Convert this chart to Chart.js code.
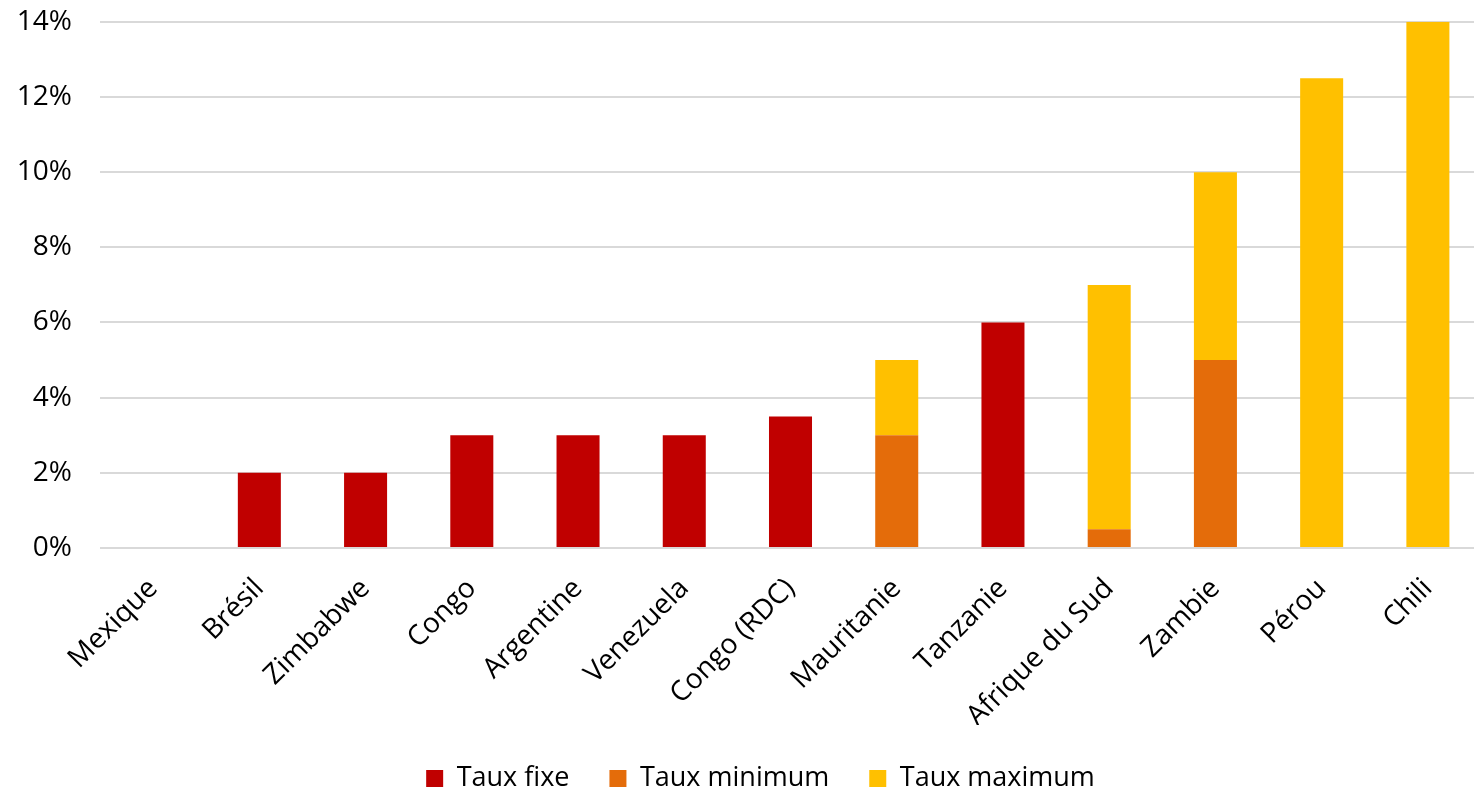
<!DOCTYPE html>
<html>
<head>
<meta charset="utf-8">
<script src="https://cdn.jsdelivr.net/npm/chart.js@4"></script>
<style>
  body { margin: 0; background: #fff; overflow: hidden; }
  #wrap { width: 1481px; height: 790px; }
</style>
</head>
<body>
<div id="wrap"><canvas id="myChart"></canvas></div>
<script>
const pays = ['Mexique', 'Brésil', 'Zimbabwe', 'Congo', 'Argentine', 'Venezuela', 'Congo (RDC)',
              'Mauritanie', 'Tanzanie', 'Afrique du Sud', 'Zambie', 'Pérou', 'Chili'];

const tauxFixe    = [null, 2, 2, 3, 3, 3, 3.5, null, 6, null, null, null, null];
const tauxMinimum = [null, null, null, null, null, null, null, 3, null, 0.5, 5, null, null];
const tauxMaximum = [null, null, null, null, null, null, null, 5, null, 7, 10, 12.5, 14];

const yTicks = [0, 2, 4, 6, 8, 10, 12, 14];

const fontFamily = "'Open Sans', sans-serif";

// the maximum rate bar starts where the minimum rate ends
const plageMaximum = tauxMaximum.map((v, i) => v === null ? null : [tauxMinimum[i] || 0, v]);

// nudge the legend a bit to the right of the canvas centre
const decalageLegende = {
    id: 'decalageLegende',
    afterLayout(chart) {
        chart.legend.left += 20;
        chart.legend.right += 20;
    }
};

const ctx = document.getElementById('myChart');

const myChart = new Chart(ctx, {
    type: 'bar',
    data: {
        labels: pays,
        datasets: [{
            label: 'Taux fixe',
            data: tauxFixe,
            backgroundColor: '#C00000'
        }, {
            label: 'Taux minimum',
            data: tauxMinimum,
            backgroundColor: '#E46C0A'
        }, {
            label: 'Taux maximum',
            data: plageMaximum,
            backgroundColor: '#FFC000'
        }]
    },
    plugins: [decalageLegende],
    options: {
        animation: false,
        maintainAspectRatio: false,
        layout: {
            padding: { top: 0, left: 0, right: 0, bottom: -12 }
        },
        datasets: {
            bar: {
                categoryPercentage: 1,
                barPercentage: 0.405
            }
        },
        scales: {
            x: {
                stacked: true,
                grid: { display: false, drawTicks: false },
                border: { display: false },
                ticks: {
                    color: '#000',
                    font: { family: fontFamily, size: 28 },
                    minRotation: 45,
                    maxRotation: 45,
                    padding: 24
                },
                afterFit: function(axis) {
                    axis.height = 177;
                }
            },
            y: {
                stacked: false,
                min: 0,
                max: 14,
                afterBuildTicks: function(axis) {
                    axis.ticks = yTicks.map(v => ({ value: v }));
                },
                grid: {
                    color: '#D9D9D9',
                    lineWidth: 2,
                    drawTicks: true,
                    tickLength: 23,
                    tickColor: 'rgba(0,0,0,0)'
                },
                border: { display: false },
                ticks: {
                    color: '#000',
                    font: { family: fontFamily, size: 28 },
                    padding: 5,
                    callback: function(value) {
                        return value + '%';
                    }
                },
                afterFit: function(axis) {
                    axis.width = 100;
                }
            }
        },
        plugins: {
            legend: {
                position: 'bottom',
                labels: {
                    color: '#000',
                    font: { family: fontFamily, size: 27 },
                    boxWidth: 17,
                    boxHeight: 17,
                    padding: 40
                }
            },
            tooltip: { enabled: false }
        }
    }
});
</script>
</body>
</html>
